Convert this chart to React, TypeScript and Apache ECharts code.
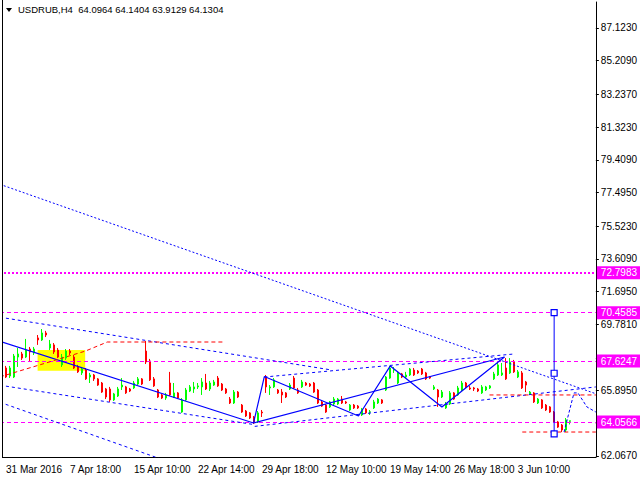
import React, { useEffect, useRef } from 'react';
import * as echarts from 'echarts';

// ---------- data ----------
const titleText = 'USDRUB,H4  64.0964 64.1404 63.9129 64.1304';
const xTickLabels = ['31 Mar 2016', '7 Apr 18:00', '15 Apr 10:00', '22 Apr 14:00', '29 Apr 18:00', '12 May 10:00', '19 May 14:00', '26 May 18:00', '3 Jun 10:00'];
const barsPerLabel = 16;
const totalSlots = 149; // bar slots on the axis (bar 0 is off-screen, right side empty)

// [open, close, low, high] for bars 1..142
const candles: number[][] = [
  [67.22, 66.69, 66.63, 67.34], [66.75, 67.22, 66.63, 67.34], [66.69, 67.92, 66.63, 68.04], [67.86, 68.04, 67.28, 68.39],
  [68.04, 67.80, 67.69, 68.16], [67.86, 68.27, 67.80, 68.92], [68.33, 68.16, 67.63, 68.45], [68.10, 68.33, 67.98, 68.45],
  [68.98, 68.86, 68.57, 69.15], [68.86, 69.27, 68.80, 69.50], [69.27, 69.15, 69.03, 69.39], [68.39, 68.62, 68.27, 68.86],
  [68.57, 68.16, 68.04, 68.68], [68.27, 67.86, 67.80, 68.39], [67.40, 67.86, 67.28, 68.04], [67.80, 68.21, 67.69, 68.33],
  [68.21, 68.10, 67.98, 68.33], [67.86, 67.22, 67.16, 67.98], [67.28, 66.99, 66.93, 67.40], [66.93, 67.16, 66.81, 67.28],
  [67.10, 66.58, 66.52, 67.22], [66.69, 66.81, 66.34, 66.93], [66.81, 66.58, 66.46, 66.87], [66.58, 66.22, 66.17, 66.63],
  [66.34, 65.81, 65.76, 66.40], [65.99, 65.52, 65.40, 66.05], [65.99, 65.35, 65.23, 66.11], [65.35, 65.70, 65.29, 65.76],
  [65.58, 65.99, 65.52, 66.11], [66.11, 66.22, 65.93, 66.63], [66.11, 65.76, 65.70, 66.17], [65.99, 65.87, 65.81, 66.05],
  [66.05, 66.34, 65.99, 66.46], [66.28, 66.58, 66.22, 66.69], [66.58, 66.28, 66.22, 66.63], [68.21, 67.57, 67.45, 68.80],
  [67.63, 66.52, 66.46, 67.75], [66.58, 66.17, 66.11, 66.69], [65.93, 65.52, 65.46, 65.99], [65.64, 65.46, 65.40, 65.70],
  [65.46, 65.64, 65.35, 65.76], [66.34, 65.64, 65.58, 66.99], [65.52, 65.76, 65.46, 66.34], [65.76, 65.46, 65.40, 65.81],
  [64.64, 65.35, 64.59, 65.46], [65.35, 65.93, 65.29, 66.05], [65.87, 66.11, 65.81, 66.22], [65.99, 66.11, 65.76, 66.40],
  [66.11, 66.17, 65.99, 66.34], [66.11, 66.40, 65.64, 66.63], [66.34, 65.99, 65.93, 66.87], [65.99, 66.34, 65.87, 66.46],
  [66.22, 66.40, 66.17, 66.52], [66.63, 66.17, 66.11, 66.75], [66.28, 65.93, 65.87, 66.34], [65.99, 65.76, 65.70, 66.05],
  [65.40, 65.17, 65.11, 65.52], [65.17, 65.81, 65.11, 65.93], [65.81, 65.52, 65.46, 65.87], [65.05, 64.64, 64.59, 65.11],
  [64.70, 64.41, 64.35, 64.76], [64.59, 64.29, 64.23, 64.64], [64.35, 64.00, 63.94, 64.41], [64.06, 64.59, 64.00, 64.70],
  [64.64, 64.59, 64.35, 64.76], [66.69, 66.11, 65.76, 66.81], [66.05, 66.11, 65.64, 66.22], [66.11, 66.52, 66.05, 66.63],
  [65.93, 65.76, 65.70, 65.99], [65.81, 65.64, 65.17, 65.99], [65.76, 65.52, 65.46, 65.81], [65.99, 66.22, 65.93, 66.34],
  [66.63, 66.05, 65.99, 66.75], [65.93, 65.76, 65.70, 66.05], [66.11, 66.40, 66.05, 66.52], [66.34, 66.22, 66.17, 66.40],
  [66.28, 66.17, 66.11, 66.34], [66.34, 65.81, 65.76, 66.40], [65.93, 65.17, 65.11, 65.99], [65.23, 64.99, 64.94, 65.29],
  [65.05, 64.64, 64.59, 65.11], [64.94, 65.23, 64.88, 65.29], [65.11, 65.40, 65.05, 65.52], [65.11, 65.40, 65.05, 65.46],
  [65.40, 65.17, 65.11, 65.58], [65.23, 65.17, 65.11, 65.29], [64.76, 65.05, 64.70, 65.11], [65.05, 64.88, 64.82, 65.11],
  [64.99, 64.88, 64.82, 65.05], [64.47, 64.82, 64.41, 64.88], [64.82, 64.59, 64.53, 64.88], [64.64, 64.65, 64.47, 64.76],
  [64.88, 65.23, 64.82, 65.35], [65.17, 65.40, 65.11, 65.46], [65.35, 65.17, 65.11, 65.40], [65.93, 66.69, 65.87, 66.75],
  [66.63, 67.22, 66.58, 67.34], [67.10, 67.11, 66.93, 67.28], [66.34, 66.93, 66.28, 67.04], [66.87, 66.69, 66.63, 66.93],
  [66.69, 66.81, 66.63, 66.99], [66.81, 67.16, 66.75, 67.22], [67.10, 66.81, 66.75, 67.22], [67.04, 66.93, 66.87, 67.10],
  [67.16, 66.87, 66.81, 67.22], [66.93, 66.58, 66.52, 66.99], [66.69, 66.63, 66.58, 66.75], [65.99, 66.11, 65.93, 66.22],
  [65.93, 65.52, 64.94, 65.99], [65.52, 65.81, 65.46, 65.93], [64.88, 65.11, 64.82, 65.23], [65.11, 65.76, 65.05, 65.87],
  [65.76, 65.40, 65.35, 65.81], [65.64, 66.05, 65.58, 66.17], [65.93, 66.34, 65.87, 66.46], [66.34, 66.11, 66.05, 66.40],
  [66.05, 65.99, 65.93, 66.17], [66.05, 65.99, 65.87, 66.11], [65.99, 65.87, 65.81, 66.05], [65.76, 66.11, 65.70, 66.22],
  [65.93, 66.11, 65.87, 66.17], [66.05, 66.17, 65.99, 66.22], [66.58, 66.87, 66.52, 66.99], [66.81, 67.40, 66.75, 67.57],
  [66.81, 66.93, 66.75, 67.51], [67.22, 66.58, 66.52, 67.80], [66.93, 67.57, 66.87, 67.80], [67.57, 66.99, 66.93, 67.69],
  [66.69, 66.99, 66.63, 67.10], [66.93, 66.05, 65.99, 67.04], [66.40, 66.22, 65.81, 66.46], [65.70, 65.81, 65.64, 65.87],
  [65.76, 65.23, 65.17, 65.81], [65.17, 65.40, 65.11, 65.46], [65.35, 64.88, 64.82, 65.40], [65.05, 64.76, 64.70, 65.11],
  [64.94, 64.64, 64.59, 64.99], [64.64, 64.06, 64.00, 64.70], [64.06, 63.76, 63.71, 64.12], [63.88, 63.59, 63.47, 63.94],
  [63.59, 64.18, 63.47, 64.29], [64.0964, 64.1304, 63.9129, 64.1404],
];

const yTickValues = [62.067, 63.981, 65.895, 67.809, 69.781, 71.695, 73.609, 75.523, 77.495, 79.409, 81.323, 83.237, 85.209, 87.123];
const yLabelValues = [62.067, 65.895, 69.781, 71.695, 73.609, 75.523, 77.495, 79.409, 81.323, 83.237, 85.209, 87.123];
const priceLevels = [72.7983, 70.4585, 67.6247, 64.0566];

// drawn objects, points as [bar, price]
const zigzag = [[-0.5, 68.78], [62.9, 64.0], [65.6, 66.72], [89.15, 64.41], [97.1, 67.34], [110.0, 64.94], [125.65, 67.86]];
const risingSolid = [[62.9, 64.0], [125.65, 67.86]];
const longDotted = [[-0.5, 77.97], [148.5, 65.71]];
const longDottedLower = [[-0.5, 65.21], [42.5, 61.66]];
const channelUpperDown = [[-0.5, 70.19], [82.2, 67.11]];
const channelLowerDown = [[-0.5, 66.21], [63.2, 63.9]];
const channelUpperUp = [[65.6, 66.69], [128.1, 68.04]];
const channelLowerUp = [[63.2, 63.8], [148.5, 66.11]];
const redPathLeft = [[-0.5, 66.7], [20.86, 68.21], [26.32, 68.74], [55.37, 68.74]];
const redLevelMid = [[121.9, 65.64], [148.5, 65.64]];
const redLevelLow = [[130.1, 63.47], [148.5, 63.47]];
const forecast = [[140.55, 63.47], [143.03, 65.76], [144.03, 65.76], [146.26, 64.94], [148.5, 64.64]];
const measureLine = [[138.07, 70.4585], [138.07, 66.91], [138.07, 63.36]];
const yellowBox = { fromBar: 8.9, toBar: 20.8, top: 68.27, bottom: 67.06 };

const FONT = 'Liberation Sans';
const BLUE = '#0000ff';
const RED = '#ff0000';
const MAGENTA = '#ff00ff';

function lineSeries(data: number[][], color: string, type: any, width = 1, z = 5) {
  return {
    type: 'line', xAxisIndex: 1, yAxisIndex: 0, data, symbol: 'none', silent: true, z,
    lineStyle: { color, width, type },
  };
}

export default function App() {
  const ref = useRef<HTMLDivElement>(null);
  useEffect(() => {
    if (!ref.current) return;
    const chart = echarts.init(ref.current, undefined, { renderer: 'svg' });
    const categories = Array.from({ length: totalSlots }, (_, i) =>
      i % barsPerLabel === 0 && i / barsPerLabel < xTickLabels.length ? xTickLabels[i / barsPerLabel] : '');
    const candleData: any[] = Array.from({ length: totalSlots }, (_, i) =>
      i >= 1 && i <= candles.length ? candles[i - 1] : '-');
    const showLabel = (_i: number, v: string) => v !== '';

    chart.setOption({
      animation: false,
      backgroundColor: '#ffffff',
      grid: { left: -3, top: 2, width: 600, height: 455, containLabel: false },
      xAxis: [
        {
          type: 'category', data: categories, boundaryGap: true,
          axisLine: { onZero: false, lineStyle: { color: '#000', width: 1 } },
          axisTick: { alignWithLabel: true, interval: showLabel, length: 5, lineStyle: { color: '#000' } },
          axisLabel: { interval: showLabel, align: 'left', padding: [0, 0, 0, 4], color: '#000', fontSize: 10, fontFamily: FONT, margin: 7 },
          splitLine: { show: false },
        },
        { type: 'value', min: -0.5, max: 148.5, show: false },
      ],
      yAxis: {
        type: 'value', position: 'right', min: 62.008, max: 88.645,
        axisLine: { show: true, onZero: false, lineStyle: { color: '#000', width: 1 } },
        axisTick: { show: true, length: 3, customValues: yTickValues, lineStyle: { color: '#000' } },
        axisLabel: { customValues: yLabelValues, formatter: (v: number) => v.toFixed(4), color: '#000', fontSize: 10, fontFamily: FONT, margin: 5 },
        splitLine: { show: false },
      },
      series: [
        {
          type: 'line', xAxisIndex: 1, data: [[yellowBox.fromBar, yellowBox.top]], symbol: 'none', z: 1,
          lineStyle: { opacity: 0 },
          markArea: {
            silent: true,
            itemStyle: { color: '#ffff00', opacity: 1 },
            data: [[{ xAxis: yellowBox.fromBar, yAxis: yellowBox.top }, { xAxis: yellowBox.toBar, yAxis: yellowBox.bottom }]],
          },
        },
        {
          type: 'line', xAxisIndex: 1, data: [[0, priceLevels[0]]], symbol: 'none', z: 2,
          lineStyle: { opacity: 0 },
          markLine: {
            silent: true, symbol: ['none', 'none'], animation: false, precision: 4,
            label: {
              show: true, position: 'end', distance: 1, color: '#ffffff', backgroundColor: MAGENTA,
              fontSize: 10, fontFamily: FONT, padding: [1, 4, 1, 4], lineHeight: 11,
              formatter: (p: any) => priceLevels[p.dataIndex].toFixed(4),
            },
            data: priceLevels.map((v, i) => ({
              yAxis: v,
              lineStyle: { color: MAGENTA, width: i === 0 ? 2 : 1, type: i === 0 ? [2, 2] : [4, 3] },
            })),
          },
        },
        {
          type: 'candlestick', xAxisIndex: 0, yAxisIndex: 0, data: candleData, barWidth: 2, z: 3,
          itemStyle: { color: '#00ff00', color0: RED, borderColor: '#00ff00', borderColor0: RED, borderColorDoji: '#00ff00', borderWidth: 1 },
        },
        lineSeries(longDotted, BLUE, [2, 2]),
        lineSeries(longDottedLower, BLUE, [3, 3]),
        lineSeries(channelUpperDown, BLUE, [3, 3]),
        lineSeries(channelLowerDown, BLUE, [3, 3]),
        lineSeries(channelUpperUp, BLUE, [3, 3]),
        lineSeries(channelLowerUp, BLUE, [3, 3]),
        lineSeries(zigzag, BLUE, 'solid', 1.2),
        lineSeries(risingSolid, BLUE, 'solid', 1.2),
        lineSeries(redPathLeft, RED, [4, 3]),
        lineSeries(redLevelMid, RED, [4, 3]),
        lineSeries(redLevelLow, RED, [4, 3]),
        lineSeries(forecast, BLUE, [3, 2]),
        {
          type: 'line', xAxisIndex: 1, data: measureLine, symbol: 'rect', symbolSize: 6, showSymbol: true, z: 6, silent: true,
          lineStyle: { color: BLUE, width: 1 },
          itemStyle: { color: '#ffffff', borderColor: BLUE, borderWidth: 1.2 },
        },
      ],
      graphic: [
        { type: 'rect', left: 0, top: 0, shape: { x: 0, y: 0, width: 2, height: 458 }, style: { fill: '#ffffff' }, z: 100 },
        { type: 'line', shape: { x1: 2.5, y1: 0, x2: 2.5, y2: 457 }, style: { stroke: '#000', lineWidth: 1 }, z: 101 },
        { type: 'polygon', shape: { points: [[6, 8], [12, 8], [9, 12]] }, style: { fill: '#000' }, z: 101 },
        { type: 'text', left: 18, top: 4, style: { text: titleText, fill: '#000', fontSize: 9.5, fontFamily: FONT }, z: 101 },
      ],
    });
    return () => chart.dispose();
  }, []);
  return <div ref={ref} style={{ position: 'fixed', left: 0, top: 0, width: 640, height: 480 }} />;
}
